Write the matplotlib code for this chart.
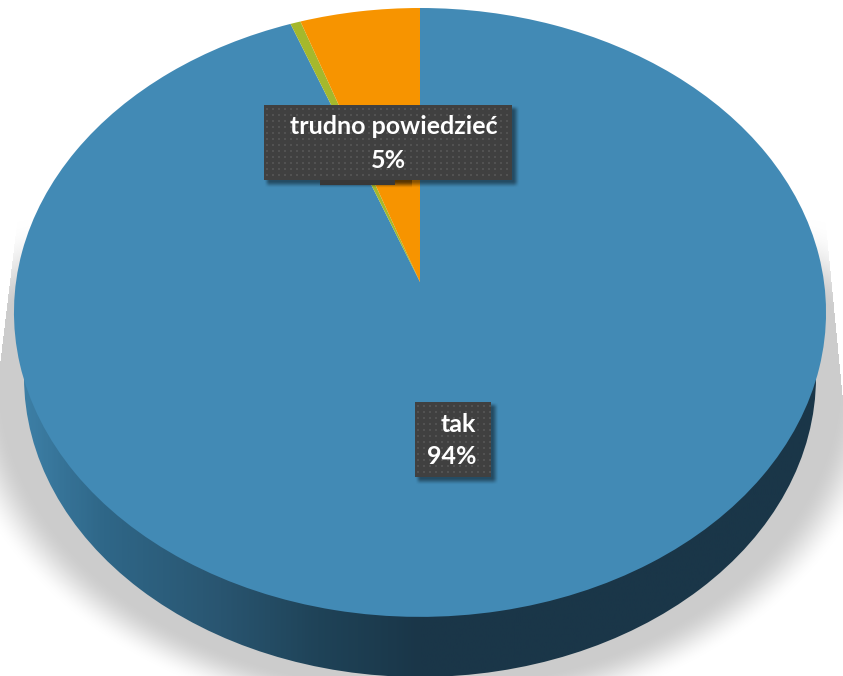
"""
3D style pie chart, drawn in pixel coordinates
"""

import numpy as np
import matplotlib
matplotlib.use('Agg')
import matplotlib.pyplot as plt
from matplotlib.colors import LinearSegmentedColormap, to_rgb
from matplotlib.patches import Ellipse, Rectangle
from matplotlib.transforms import Transform

# Data
categories = ['tak', 'nie', 'trudno powiedzieć']
shares = [94.3, 0.45, 5.25]
colors = ['#428ab5', '#a5b82c', '#f79400']
shown_labels = ['tak', 'trudno powiedzieć']
shown_shares = [shares[0], shares[2]]

WIDTH, HEIGHT = 843, 676
APEX_X, APEX_Y = 420, 282   # where the slices meet
SCALE_X, SCALE_Y = 404, 301.4
TILT = 0.1


class Perspective(Transform):
    """Maps the unit pie disc onto the tilted top face (pixels)"""
    input_dims = 2
    output_dims = 2
    is_separable = False
    has_inverse = False

    def transform_non_affine(self, values):
        values = np.asarray(values)
        w = 1 + TILT * values[:, 1]
        return np.column_stack([APEX_X + SCALE_X * values[:, 0] / w,
                                APEX_Y - SCALE_Y * values[:, 1] / w])


def smoothstep(lo, hi, v):
    t = np.clip((v - lo) / (hi - lo), 0, 1)
    return t * t * (3 - 2 * t)


def draw_floor_shadow(ax):
    xx, yy = np.meshgrid(np.arange(WIDTH) + 0.5, np.arange(HEIGHT) + 0.5)
    r = np.hypot((xx - 420) / 445, (yy - 377) / 330)
    alpha = 1 - smoothstep(-24, 24, (r - 1) * 400)
    # sharp slanted sides, fading out towards the top
    left = 15 - (yy - 240) * 15 / 125
    right = 826 + (yy - 225) * 17 / 175
    alpha = alpha * ((xx > left) & (xx < right)) * smoothstep(215, 310, yy)
    rgba = np.zeros((HEIGHT, WIDTH, 4))
    rgba[..., :3] = 0.8
    rgba[..., 3] = alpha
    ax.imshow(rgba, extent=(0, WIDTH, HEIGHT, 0), aspect='auto', zorder=1)


def draw_rim(ax):
    ramp = LinearSegmentedColormap.from_list('rim', [
        (0.0, '#3d7fa6'), (0.1, '#2f6788'), (0.25, '#295570'),
        (0.37, '#1f4358'), (0.5, '#1a3648'), (1.0, '#1a3648')])
    im = ax.imshow(np.linspace(0, 1, 400).reshape(1, -1), cmap=ramp,
                   extent=(22, 818, HEIGHT + 10, 300), aspect='auto', zorder=2)
    im.set_clip_path(Ellipse((420, 377), 2 * 396, 2 * 300, transform=ax.transData))


def draw_label(ax, x0, y0, x1, y1, lines, font_size):
    w, h = x1 - x0, y1 - y0
    # soft shadow below and to the right of the box
    pad = 12
    xx, yy = np.meshgrid(np.arange(x0 - pad, x1 + pad + 6) + 0.5,
                         np.arange(y0 - pad, y1 + pad + 6) + 0.5)
    edge = (smoothstep(x0, x0 + 6, xx) * (1 - smoothstep(x1 + 1, x1 + 8, xx))
            * smoothstep(y0, y0 + 6, yy) * (1 - smoothstep(y1 + 1, y1 + 8, yy)))
    shadow = np.zeros(xx.shape + (4,))
    shadow[..., 3] = edge * 0.45
    ax.imshow(shadow, extent=(x0 - pad, x1 + pad + 6, y1 + pad + 6, y0 - pad),
              aspect='auto', zorder=5)

    # dotted dark fill
    fill = np.ones((h, w, 3)) * to_rgb('#404040')
    for row in (3, 4):
        for col in (2, 3):
            fill[row::6, col::6] = to_rgb('#525252')
    ax.imshow(fill, extent=(x0, x1, y1, y0), aspect='auto', zorder=6,
              interpolation='nearest')

    for (line, tx, ty) in lines:
        ax.text(tx, ty, line, color='white', fontsize=font_size, fontweight='bold',
                family='Lato', ha='center', va='center', zorder=7)


fig = plt.figure(figsize=(WIDTH / 100, HEIGHT / 100), dpi=100)
ax = fig.add_axes([0, 0, 1, 1])

draw_floor_shadow(ax)
draw_rim(ax)

# Top face
wedges, _ = ax.pie(shares, colors=colors, startangle=90, counterclock=False, frame=True)
persp = Perspective()
for wedge in wedges:
    wedge.set_transform(persp + ax.transData)
    wedge.set_zorder(3)
    wedge.set_linewidth(0)

# Label of the small slice, almost hidden behind the next one
hidden_shadow = np.zeros((22, 92, 4))
hidden_shadow[..., 3] = 0.35 * smoothstep(0, 8, 22 - np.arange(22).reshape(-1, 1) - 6)
ax.imshow(hidden_shadow, extent=(320, 412, 194, 172), aspect='auto', zorder=4)
ax.add_patch(Rectangle((320, 172), 75, 13, color='#383838', zorder=5.5, lw=0))

draw_label(ax, 264, 105, 512, 180,
           [(shown_labels[1], 394, 127), (f'{round(shown_shares[1])}%', 388, 161)], 18)
draw_label(ax, 415, 402, 491, 477,
           [(shown_labels[0], 458, 424), (f'{round(shown_shares[0])}%', 452, 457)], 18)

ax.set_aspect('auto')
ax.set_xlim(0, WIDTH)
ax.set_ylim(HEIGHT, 0)
ax.axis('off')

fig.savefig('out.png', dpi=100)
plt.close(fig)
